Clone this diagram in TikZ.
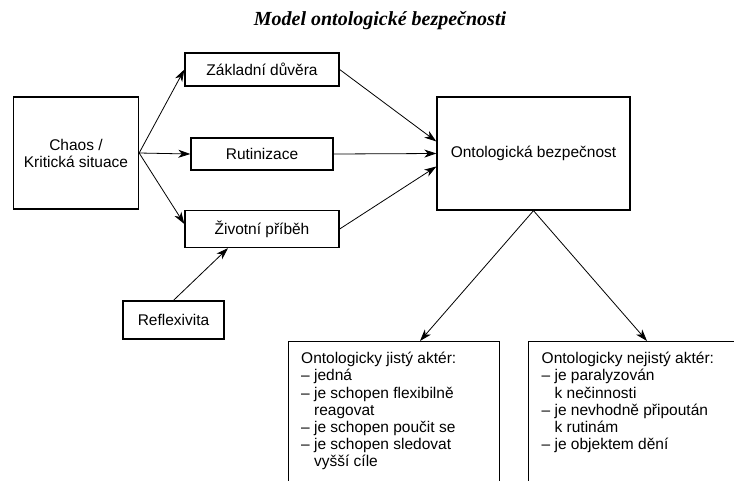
\documentclass[tikz,border=0pt]{standalone}
\usepackage{fontspec}
\setmainfont{Liberation Sans}
\newfontfamily\titlefont{Liberation Serif}
\usetikzlibrary{arrows.meta}
\begin{document}
\begin{tikzpicture}[x=1pt,y=-1pt,
  box/.style={draw, line width=1.3pt, inner sep=0pt, font=\fontsize{15.5}{17}\selectfont, align=center},
  bigbox/.style={draw, line width=1.3pt, inner sep=0pt, anchor=north west},
  listtext/.style={inner sep=0pt, anchor=north west, align=left, font=\fontsize{15.5}{17.2}\selectfont},
  arr/.style={line width=0.8pt, -{Stealth[length=12pt,width=8pt,inset=3.5pt]}},
  ]
\useasboundingbox (0,0) rectangle (734,480);
\clip (0,0) rectangle (734,480);
\node[font=\titlefont\bfseries\itshape\fontsize{20}{22}\selectfont, anchor=base] (title) at (380,25) {Model ontologické bezpečnosti};
\node[box, minimum width=154pt, minimum height=33pt] (zd) at (262,69.5) {Základní důvěra};
\node[box, minimum width=125pt, minimum height=112pt] (chaos) at (76,153) {Chaos /\\Kritická situace};
\node[box, minimum width=142pt, minimum height=32pt] (rut) at (262,154) {Rutinizace};
\node[box, minimum width=154pt, minimum height=37pt] (zp) at (262,229) {Životní příběh};
\node[box, minimum width=193pt, minimum height=113pt] (ob) at (533.5,153.5) {Ontologická bezpečnost};
\node[box, minimum width=101pt, minimum height=38pt] (refl) at (173.5,320) {Reflexivita};
\node[bigbox, minimum width=211pt, minimum height=170pt] (lb) at (288,341) {};
\node[bigbox, minimum width=220pt, minimum height=170pt] (rb) at (528,341) {};
\node[listtext] (lbt) at (301,352) {Ontologicky jistý aktér:\\
– jedná\\
– je schopen flexibilně\\
\phantom{– }reagovat\\
– je schopen poučit se\\
– je schopen sledovat\\
\phantom{– }vyšší cíle};
\node[listtext] (rbt) at (541.5,352) {Ontologicky nejistý aktér:\\
– je paralyzován\\
\phantom{– }k nečinnosti\\
– je nevhodně připoután\\
\phantom{– }k rutinám\\
– je objektem dění};
\coordinate (lbin) at (420,341);
\coordinate (rbin) at (647,341);
\draw[arr] (chaos.east) -- (zd.west);
\draw[arr] (chaos.east) -- (rut.west);
\draw[arr] (chaos.east) -- ([yshift=5pt]zp.west);
\draw[arr] (zd.east) -- ([yshift=12pt]ob.west);
\draw[arr] (rut.east) -- (ob.west);
\draw[arr] (zp.east) -- ([yshift=-13pt]ob.west);
\draw[arr] (refl.north) -- ([xshift=-34pt]zp.south);
\draw[arr] (ob.south) -- (lbin);
\draw[arr] (ob.south) -- (rbin);
\end{tikzpicture}
\end{document}
